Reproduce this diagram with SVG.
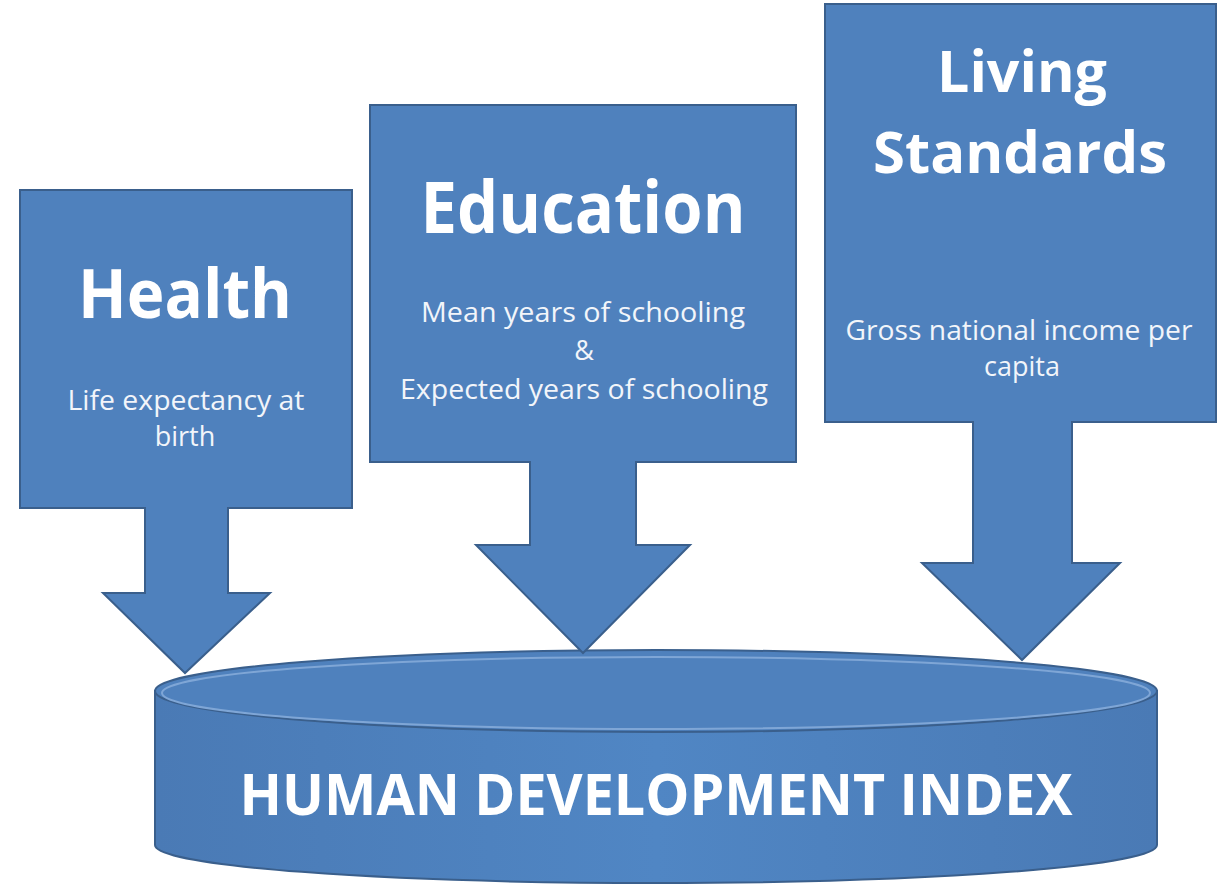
<svg xmlns="http://www.w3.org/2000/svg" width="1218" height="892" viewBox="0 0 1218 892">
<defs>
<style>
.shape{fill:#4F81BD;stroke:#3A5F8C;stroke-width:2;stroke-linejoin:miter}
.title{font-family:"Open Sans","DejaVu Sans",sans-serif;font-weight:bold;fill:#FFFFFF;text-anchor:middle}
.sub{font-family:"Open Sans","DejaVu Sans",sans-serif;fill:#F2F5FA;text-anchor:middle;font-size:27px}
</style>
<linearGradient id="cylside" x1="0" y1="0" x2="1" y2="0">
<stop offset="0" stop-color="#4A7AB5"/>
<stop offset="0.5" stop-color="#5086C4"/>
<stop offset="1" stop-color="#4A7AB5"/>
</linearGradient>
</defs>
<rect width="1218" height="892" fill="#FFFFFF"/>
<g id="hdi">
<path class="shape" style="fill:url(#cylside)" d="M155,691 L155,845 A501,38 0 0 0 1157,845 L1157,691 Z"/>
<ellipse class="shape" cx="656" cy="691" rx="501" ry="41"/>
<ellipse cx="656" cy="693" rx="494" ry="36" fill="none" stroke="#7FA6D6" stroke-width="2"/>
<text class="title" x="656" y="815" font-size="58" textLength="833" lengthAdjust="spacingAndGlyphs">HUMAN DEVELOPMENT INDEX</text>
</g>
<g id="connectors">
</g>
<g id="health">
<path class="shape" d="M20,190 L352,190 L352,508 L228,508 L228,593 L270,593 L185,673 L103,593 L145,593 L145,508 L20,508 Z"/>
<text class="title" x="185" y="318" font-size="68" textLength="214" lengthAdjust="spacingAndGlyphs">Health</text>
<text class="sub" x="186" y="410" textLength="237" lengthAdjust="spacingAndGlyphs">Life expectancy at</text>
<text class="sub" x="185" y="446">birth</text>
</g>
<g id="education">
<path class="shape" d="M370,105 L796,105 L796,462 L636,462 L636,545 L690,545 L583,653 L476,545 L530,545 L530,462 L370,462 Z"/>
<text class="title" x="583" y="233" font-size="72" textLength="325" lengthAdjust="spacingAndGlyphs">Education</text>
<text class="sub" x="583" y="322" textLength="324" lengthAdjust="spacingAndGlyphs">Mean years of schooling</text>
<text class="sub" x="584" y="360">&amp;</text>
<text class="sub" x="584" y="399" textLength="368" lengthAdjust="spacingAndGlyphs">Expected years of schooling</text>
</g>
<g id="living">
<path class="shape" d="M825,4 L1216,4 L1216,422 L1072,422 L1072,563 L1120,563 L1022,660 L922,563 L973,563 L973,422 L825,422 Z"/>
<text class="title" x="1022" y="92" font-size="58" textLength="170" lengthAdjust="spacingAndGlyphs">Living</text>
<text class="title" x="1020" y="173" font-size="58" textLength="294" lengthAdjust="spacingAndGlyphs">Standards</text>
<text class="sub" x="1019" y="340" textLength="347" lengthAdjust="spacingAndGlyphs">Gross national income per</text>
<text class="sub" x="1022" y="376">capita</text>
</g>
</svg>
